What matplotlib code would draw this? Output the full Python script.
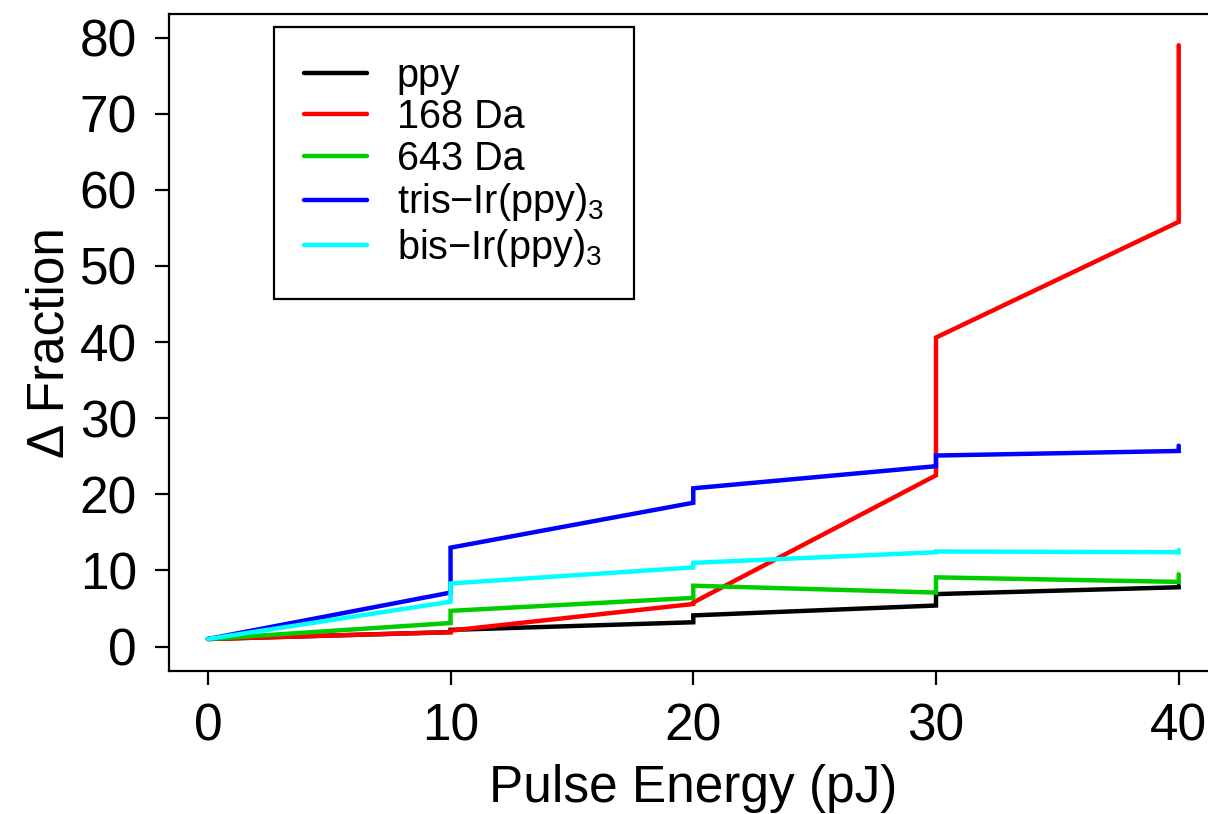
import numpy as np
import matplotlib.pyplot as plt

plt.rcParams['font.family'] = ['Liberation Sans', 'DejaVu Sans']
plt.rcParams['mathtext.fontset'] = 'custom'
plt.rcParams['mathtext.rm'] = 'Liberation Sans'
plt.rcParams['mathtext.it'] = 'Liberation Sans'

# energia de pulso (cada paso tiene valor antes y despues)
energia = [0, 10, 10, 20, 20, 30, 30, 40, 40]

ppy = [1.0, 1.9, 2.2, 3.2, 4.1, 5.4, 6.9, 7.8, 8.0]
da168 = [1.0, 1.9, 2.1, 5.6, 5.8, 22.5, 40.6, 55.8, 79.0]
da643 = [1.0, 3.1, 4.7, 6.4, 8.0, 7.1, 9.1, 8.5, 9.5]
tris = [1.0, 7.1, 13.0, 18.9, 20.8, 23.7, 25.1, 25.7, 26.4]
bis = [1.0, 5.9, 8.3, 10.4, 11.0, 12.4, 12.5, 12.4, 12.7]

nombres = ['ppy', '168 Da', '643 Da', r'tris$-$Ir(ppy)$_3$', r'bis$-$Ir(ppy)$_3$']
colores = ['black', '#FF0000', '#00CD00', '#0000FF', '#00FFFF']

fig = plt.figure(figsize=(12.08, 8.14), dpi=100)
ax = fig.add_axes([0.1399, 0.1757, 0.8680, 0.8071])

series = [ppy, da168, da643, tris, bis]
for s, nom, col in zip(series, nombres, colores):
    ax.plot(energia, s, color=col, lw=3.2, label=nom, solid_capstyle='round', solid_joinstyle='miter')

ax.set_xlim(-1.6, 41.6)
ax.set_ylim(-3.2, 83.1)
ax.set_xticks([0, 10, 20, 30, 40])
ax.set_yticks(np.arange(0, 81, 10))
ax.tick_params(direction='out', length=10, width=1.6, labelsize=37, pad=13)
for sp in ax.spines.values():
    sp.set_linewidth(1.6)

ax.set_xlabel('Pulse Energy (pJ)', fontsize=37, labelpad=9)
ax.set_ylabel('Δ Fraction', fontsize=37, labelpad=4)

leg = ax.legend(loc='upper left', bbox_to_anchor=(274 / 1208, 1 - 27 / 814), bbox_transform=fig.transFigure,
                fontsize=28.5, frameon=True, fancybox=False, edgecolor='black', framealpha=1,
                handlelength=1.6, handletextpad=0.75, borderpad=0.75, labelspacing=0.09, borderaxespad=0)
leg.get_frame().set_linewidth(1.6)

fig.savefig('out.png', dpi=100)
